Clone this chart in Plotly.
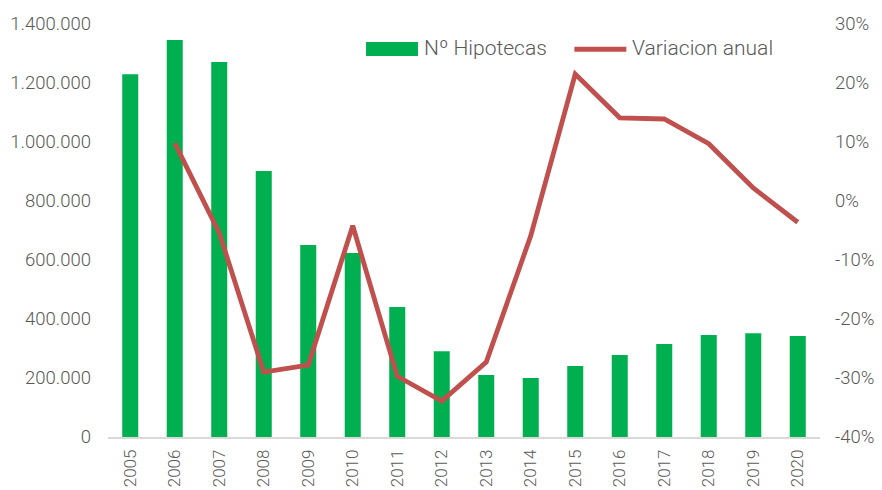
import plotly.graph_objects as go

years = [str(y) for y in range(2005, 2021)]
hipotecas = [1230000, 1346000, 1271000, 902000, 651000, 624000, 441000, 291000,
             210000, 200000, 241000, 278000, 315000, 346000, 352000, 342000]
variacion = [None, 9.8, -5.4, -29.0, -27.8, -4.2, -29.7, -33.9,
             -27.3, -5.9, 21.5, 14.1, 13.9, 9.7, 2.2, -3.6]
left_ticks = [0, 200000, 400000, 600000, 800000, 1000000, 1200000, 1400000]
right_ticks = [-40, -30, -20, -10, 0, 10, 20, 30]
right_labels = [f"{v}%" for v in right_ticks]
legend_names = ["Nº Hipotecas", "Variacion anual"]

GREEN = "#00B050"
RED = "#C0504D"
font_family = "Roboto"
tick_color = "#595959"

fig = go.Figure()
fig.add_trace(go.Bar(x=years, y=hipotecas, name=legend_names[0],
                     marker=dict(color=GREEN, line=dict(width=0)), showlegend=False))
fig.add_trace(go.Scatter(x=years, y=variacion, name=legend_names[1], yaxis="y2",
                         mode="lines", line=dict(color=RED, width=4.8),
                         connectgaps=False, showlegend=False))

# custom legend (Excel-style keys)
fig.add_shape(type="rect", xref="paper", yref="paper", x0=0.3624, x1=0.4354,
              y0=0.9225, y1=0.9564, fillcolor=GREEN, line=dict(width=0))
fig.add_annotation(xref="paper", yref="paper", x=0.4410, y=0.942, text=legend_names[0],
                   showarrow=False, xanchor="left", yanchor="middle",
                   font=dict(size=21, color=tick_color, family=font_family, weight=300))
fig.add_shape(type="line", xref="paper", yref="paper", x0=0.655, x1=0.728,
              y0=0.939, y1=0.939, line=dict(color=RED, width=5))
fig.add_annotation(xref="paper", yref="paper", x=0.733, y=0.942, text=legend_names[1],
                   showarrow=False, xanchor="left", yanchor="middle",
                   font=dict(size=21, color=tick_color, family=font_family, weight=300))

fig.update_layout(
    width=882, height=490,
    margin=dict(l=108, r=62, t=24, b=53),
    plot_bgcolor="white", paper_bgcolor="white",
    separators=",.",
    bargap=0.64,
    font=dict(family=font_family, color=tick_color, size=18, weight=300),
    showlegend=False,
    xaxis=dict(type="category", tickangle=-90, showgrid=False, showline=True,
               linecolor="#D9D9D9", linewidth=1.5, ticks="", automargin=False,
               ticklabelstandoff=4,
               tickfont=dict(size=17, color=tick_color, family=font_family, weight=300)),
    yaxis=dict(range=[0, 1400000], tickvals=left_ticks, tickformat=",d",
               showgrid=False, zeroline=False, showline=False, ticks="",
               automargin=False, ticklabelstandoff=16,
               tickfont=dict(size=18.5, color=tick_color, family=font_family, weight=300)),
    yaxis2=dict(range=[-40, 30], tickvals=right_ticks, ticktext=right_labels,
                overlaying="y", side="right", showgrid=False, zeroline=False,
                showline=False, ticks="", automargin=False, ticklabelstandoff=14,
                tickfont=dict(size=18.5, color=tick_color, family=font_family, weight=300)),
)

fig.write_html("out.html", config={"displayModeBar": False})

# remove default page margin so the figure sits at the window's top-left corner
with open("out.html", "r", encoding="utf-8") as f:
    html = f.read()
html = html.replace("<head>", "<head><style>html,body{margin:0;padding:0;overflow:hidden}</style>", 1)
with open("out.html", "w", encoding="utf-8") as f:
    f.write(html)
